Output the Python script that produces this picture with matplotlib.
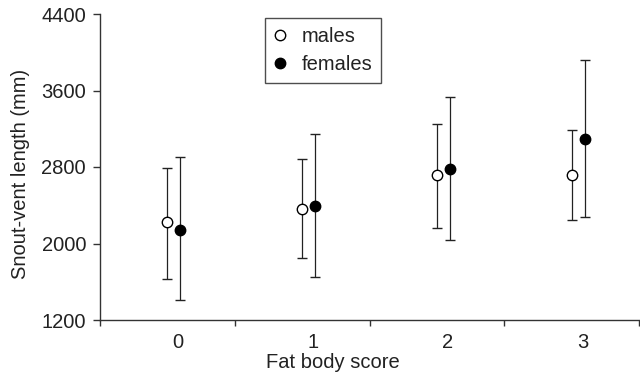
import matplotlib
matplotlib.use("Agg")
import matplotlib.pyplot as plt
import numpy as np

categories = ["0", "1", "2", "3"]
male_mean = [2222, 2361, 2716, 2716]
male_upper = [2786, 2887, 3246, 3187]
male_lower = [1629, 1845, 2159, 2246]
female_mean = [2141, 2392, 2776, 3089]
female_upper = [2901, 3142, 3529, 3916]
female_lower = [1406, 1653, 2036, 2280]
y_ticks = [1200, 2000, 2800, 3600, 4400]

plt.rcParams['font.family'] = ['Liberation Sans', 'DejaVu Sans']
fs = 14.5
ink = '#222222'

fig = plt.figure(figsize=(6.4, 3.77), dpi=100)
ax = fig.add_axes([100/640, 1-320/377, 539/640, (320-14)/377])

x = np.arange(len(categories))
off_f = 0.097
mm = np.array(male_mean); fm = np.array(female_mean)
ax.errorbar(x, mm, yerr=[mm-np.array(male_lower), np.array(male_upper)-mm],
            fmt='o', mfc='white', mec='black', mew=1.0, ms=7.5, color='#222222',
            elinewidth=0.9, capsize=3.5, capthick=0.9, label='males', zorder=3)
ax.errorbar(x+off_f, fm, yerr=[fm-np.array(female_lower), np.array(female_upper)-fm],
            fmt='o', mfc='black', mec='black', mew=1.0, ms=7.5, color='#222222',
            elinewidth=0.9, capsize=3.5, capthick=0.9, label='females', zorder=3)

ax.set_xlim(-0.5, 3.5)
ax.set_ylim(1200, 4400)
ax.set_yticks(y_ticks)
ax.set_yticklabels([str(v) for v in y_ticks])
ax.set_xticks(x + 0.08)
ax.set_xticklabels(categories)
ax.set_xticks(np.arange(-0.5, 3.6, 1.0), minor=True)
ax.tick_params(axis='x', which='major', length=0, pad=9, labelsize=fs, labelcolor=ink)
ax.tick_params(axis='x', which='minor', length=4.5, width=1.0, color='#333333', direction='out')
ax.tick_params(axis='y', which='major', length=5, width=1.0, color='#333333', pad=5,
               labelsize=fs, labelcolor=ink)

for s in ['top', 'right']:
    ax.spines[s].set_visible(False)
for s in ['left', 'bottom']:
    ax.spines[s].set_color('#333333')
    ax.spines[s].set_linewidth(1.0)

ax.set_ylabel('Snout-vent length (mm)', fontsize=fs, color=ink)
ax.yaxis.set_label_coords(-70/539, 0.477)
ax.set_xlabel('Fat body score', fontsize=fs, color=ink)
ax.xaxis.set_label_coords((333-100)/539, -(353-320)/306)

h, l = ax.get_legend_handles_labels()
h = [hh[0] for hh in h]
leg = ax.legend(h, l, loc='upper left', bbox_to_anchor=(265/640, 1-18/377),
                bbox_transform=fig.transFigure, borderaxespad=0, frameon=True,
                fancybox=False, edgecolor='#222222', fontsize=fs, handlelength=0.6,
                handletextpad=0.75, labelspacing=0.45, borderpad=0.45)
leg.get_frame().set_linewidth(1.0)
for t in leg.get_texts():
    t.set_color(ink)

fig.savefig('out.png', dpi=100)
